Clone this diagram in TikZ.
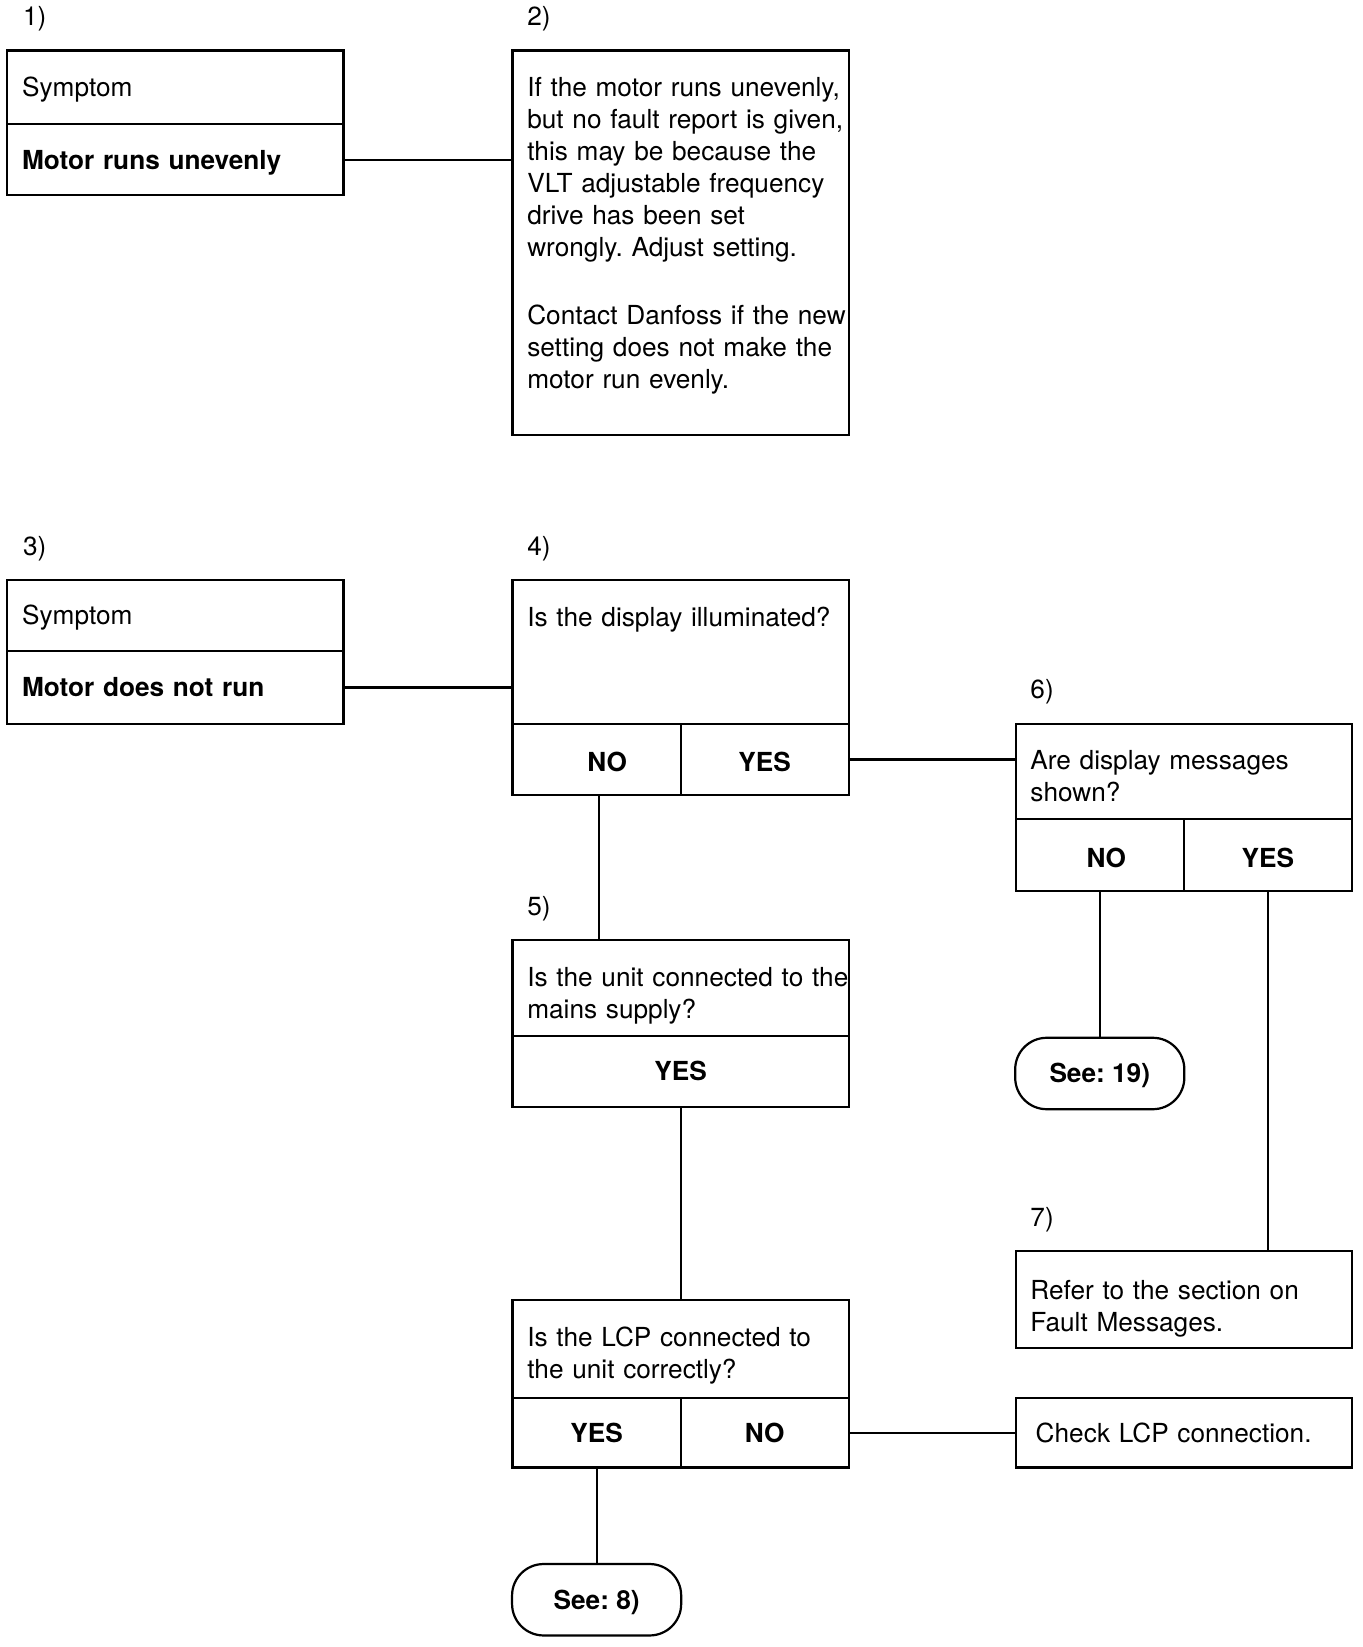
\documentclass[tikz,border=0pt]{standalone}
\usepackage{fontspec}
\setmainfont{TeX Gyre Heros}
\usepackage{tikz}
\usetikzlibrary{positioning,calc}

\newcommand\flowfont{\fontsize{14.2pt}{17.3pt}\selectfont\frenchspacing}

\begin{document}
\begin{tikzpicture}[line width=1.2pt, font=\flowfont,
    every node/.style={outer sep=0pt, inner sep=0pt},
    cell/.style={draw, minimum width=6.4cm, text width=5.84cm, align=left, text height=0.36cm, text depth=0pt},
    frame/.style={draw, minimum width=6.4cm, anchor=north west},
    half/.style={draw, minimum width=3.2cm, minimum height=1.36cm, font=\flowfont\bfseries, text height=0.46cm, text depth=0pt},
    seebox/.style={draw, rounded corners=0.6cm, minimum width=3.22cm, minimum height=1.36cm, font=\flowfont\bfseries, text height=0.36cm, text depth=0pt},
    txt/.style={anchor=base west, text width=7.5cm, align=left},
    num/.style={anchor=west}]

    \useasboundingbox (0,0) rectangle (25.94,-31.36);

    % first symptom
    \node[cell, minimum height=1.4cm, anchor=north west] (sym1) at (0.14,-0.96) {Symptom};
    \node[cell, font=\flowfont\bfseries, minimum height=1.36cm, below=0pt of sym1] (mot1) {Motor runs unevenly};
    \node[num] (n1) at ([shift={(0.3,0.6)}]sym1.north west) {1)};

    \node[frame, minimum height=7.32cm] (info2) at (9.76,-0.96) {};
    \node[txt] (info2t) at ([shift={(0.28,-0.88)}]info2.north west)
        {If the motor runs unevenly,\\ but no fault report is given,\\ this may be because the\\ VLT adjustable frequency\\ drive has been set\\ wrongly. Adjust setting.\\[0.69cm] Contact Danfoss if the new\\ setting does not make the\\ motor run evenly.};
    \node[num] (n2) at ([shift={(0.28,0.6)}]info2.north west) {2)};

    % second symptom
    \node[cell, minimum height=1.36cm, anchor=north west] (sym3) at (0.14,-11.04) {Symptom};
    \node[cell, font=\flowfont\bfseries, minimum height=1.38cm, below=0pt of sym3] (mot3) {Motor does not run};
    \node[num] (n3) at ([shift={(0.3,0.6)}]sym3.north west) {3)};

    \node[frame, minimum height=2.74cm] (q4) at (9.76,-11.04) {};
    \node[txt] (q4t) at ([shift={(0.28,-0.88)}]q4.north west) {Is the display illuminated?};
    \node[half, anchor=north west] (no4) at (q4.south west) {\hspace*{0.4cm}NO};
    \node[half, right=0pt of no4] (yes4) {YES};
    \node[num] (n4) at ([shift={(0.28,0.6)}]q4.north west) {4)};

    \node[frame, minimum height=1.82cm] (q5) at (9.76,-17.9) {};
    \node[txt] (q5t) at ([shift={(0.28,-0.88)}]q5.north west) {Is the unit connected to the\\ mains supply?};
    \node[cell, font=\flowfont\bfseries, align=center, minimum height=1.36cm, below=0pt of q5] (yes5) {YES};
    \node[num] (n5) at ([shift={(0.28,0.6)}]q5.north west) {5)};

    \node[frame, minimum height=1.82cm] (q6) at (19.34,-13.78) {};
    \node[txt] (q6t) at ([shift={(0.28,-0.88)}]q6.north west) {Are display messages\\ shown?};
    \node[half, anchor=north west] (no6) at (q6.south west) {\hspace*{0.25cm}NO};
    \node[half, right=0pt of no6] (yes6) {YES};
    \node[num] (n6) at ([shift={(0.28,0.6)}]q6.north west) {6)};
    \node[seebox, below=2.8cm of no6] (see19) {See: 19)};

    \node[frame, minimum height=1.84cm] (r7) at (19.34,-23.82) {};
    \node[txt] (r7t) at ([shift={(0.28,-0.92)}]r7.north west) {Refer to the section on\\ Fault Messages.};
    \node[num] (n7) at ([shift={(0.28,0.6)}]r7.north west) {7)};

    % LCP check
    \node[frame, minimum height=1.86cm] (q8) at (9.76,-24.76) {};
    \node[txt] (q8t) at ([shift={(0.28,-0.88)}]q8.north west) {Is the LCP connected to\\ the unit correctly?};
    \node[half, minimum height=1.32cm, text height=0.36cm, anchor=north west] (yes8) at (q8.south west) {YES};
    \node[half, minimum height=1.32cm, text height=0.36cm, right=0pt of yes8] (no8) {NO};
    \node[cell, text width=5.64cm, minimum height=1.32cm, anchor=north west] (chk) at (19.34,-26.62) {Check LCP connection.};
    \node[seebox, below=1.84cm of yes8] (see8) {See: 8)};

    % connectors
    \draw (mot1.east) -- (info2.west |- mot1.east);
    \draw (mot3.east) -- (q4.west |- mot3.east);
    \draw (yes4.east) -- (q6.west |- yes4.east);
    \draw ([xshift=0.04cm]no4.south) -- ([xshift=0.04cm]no4.south |- q5.north);
    \draw (yes5.south) -- (q8.north);
    \draw (no6.south) -- (see19.north);
    \draw (yes6.south) -- (yes6.south |- r7.north);
    \draw (no8.east) -- (chk.west |- no8.east);
    \draw (yes8.south) -- (see8.north);
\end{tikzpicture}
\end{document}
